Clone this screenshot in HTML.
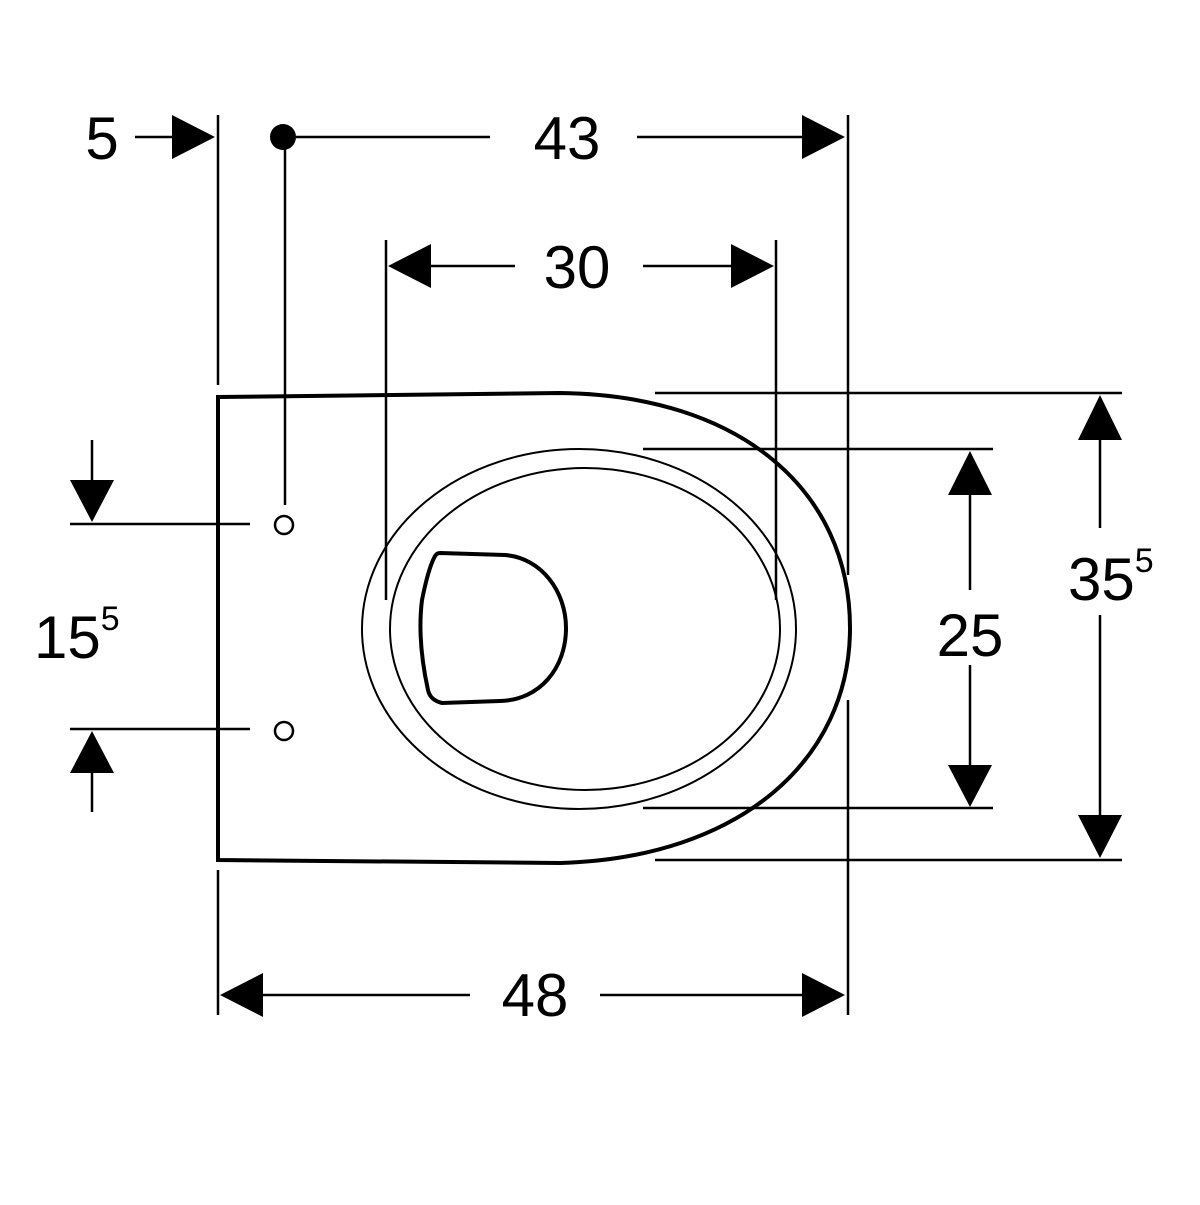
<!DOCTYPE html>
<html><head><style>body{margin:0;background:#fff}</style></head><body>
<svg width="1200" height="1200" viewBox="0 0 1200 1200" xmlns="http://www.w3.org/2000/svg" font-family="Liberation Sans, sans-serif" font-size="60">
<g stroke="#000" fill="none" stroke-width="2.5">
<line x1="218" y1="115" x2="218" y2="385"/>
<line x1="218" y1="870" x2="218" y2="1015"/>
<line x1="848" y1="115" x2="848" y2="575"/>
<line x1="848" y1="700" x2="848" y2="1015"/>
<line x1="386" y1="240" x2="386" y2="600"/>
<line x1="776" y1="240" x2="776" y2="600"/>
<line x1="655" y1="393" x2="1122" y2="393"/>
<line x1="643" y1="449" x2="993" y2="449"/>
<line x1="643" y1="808" x2="993" y2="808"/>
<line x1="655" y1="860" x2="1122" y2="860"/>
<line x1="70" y1="524" x2="250" y2="524"/>
<line x1="70" y1="729" x2="250" y2="729"/>
<line x1="285" y1="137" x2="490" y2="137"/>
<line x1="637" y1="137" x2="805" y2="137"/>
<line x1="135" y1="137" x2="175" y2="137"/>
<line x1="285" y1="137" x2="285" y2="505"/>
<line x1="430" y1="266" x2="515" y2="266"/>
<line x1="643" y1="266" x2="735" y2="266"/>
<line x1="262" y1="995" x2="470" y2="995"/>
<line x1="600" y1="995" x2="805" y2="995"/>
<line x1="970" y1="490" x2="970" y2="590"/>
<line x1="970" y1="665" x2="970" y2="770"/>
<line x1="1100" y1="435" x2="1100" y2="528"/>
<line x1="1100" y1="615" x2="1100" y2="820"/>
<line x1="92" y1="440" x2="92" y2="485"/>
<line x1="92" y1="770" x2="92" y2="812"/>
<circle cx="284" cy="525" r="9"/>
<circle cx="284" cy="731" r="9"/>
<ellipse cx="579" cy="629" rx="217" ry="180" stroke-width="2"/>
<ellipse cx="585" cy="629" rx="195" ry="161" stroke-width="2"/>
<path d="M218 397 L218 860 L560 863 C740 858 850 760 850 628 C850 490 740 395 560 393 Z" stroke-width="4"/>
<path d="M440 553 L505 555 C542 558 566 592 566 628 C566 668 540 700 500 701 L442 703 Q430 700 428 690 Q417 640 422 600 Q428 570 434 558 Q436 553 440 553 Z" stroke-width="4"/>
</g>
<g fill="#000">
<circle cx="283" cy="137" r="13"/>
<polygon points="172,115 172,159 215,137"/>
<polygon points="802,115 802,159 845,137"/>
<polygon points="431,244 431,288 388,266"/>
<polygon points="731,244 731,288 774,266"/>
<polygon points="263,973 263,1017 220,995"/>
<polygon points="802,973 802,1017 845,995"/>
<polygon points="948,495 992,495 970,451"/>
<polygon points="948,765 992,765 970,807"/>
<polygon points="1078,440 1122,440 1100,395"/>
<polygon points="1078,815 1122,815 1100,858"/>
<polygon points="70,480 114,480 92,522"/>
<polygon points="70,773 114,773 92,731"/>
<text x="102" y="159" text-anchor="middle">5</text>
<text x="567" y="159" text-anchor="middle">43</text>
<text x="577" y="288" text-anchor="middle">30</text>
<text x="535" y="1016" text-anchor="middle">48</text>
<text x="970" y="656" text-anchor="middle">25</text>
<text x="1068" y="600">35<tspan font-size="34" dy="-28">5</tspan></text>
<text x="34" y="658">15<tspan font-size="34" dy="-28">5</tspan></text>
</g>
</svg>
</body></html>
